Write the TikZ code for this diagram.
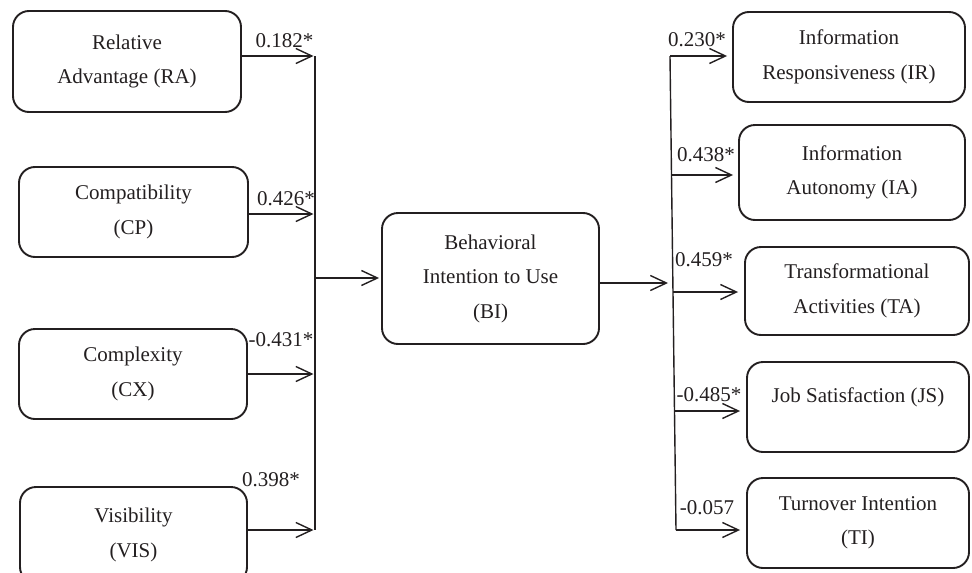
\documentclass[tikz,border=0pt]{standalone}
\usepackage{fontspec}
\setmainfont{Liberation Serif}
\usetikzlibrary{arrows.meta}
\definecolor{ink}{HTML}{231F20}
\begin{document}
\begin{tikzpicture}[x=1pt,y=-1pt,
  box/.style={draw=ink, line width=1.9pt, rounded corners=16pt, align=center,
    inner sep=0pt, font=\fontsize{21}{34.5}\selectfont, text=ink},
  ln/.style={draw=ink, line width=1.4pt},
  arr/.style={draw=ink, line width=1.4pt, -{Straight Barb[length=16pt,width=15pt]}},
  coef/.style={font=\fontsize{21}{25}\selectfont, text=ink, inner sep=0pt}]
\clip (0,0) rectangle (972,573);
\useasboundingbox (0,0) rectangle (972,573);

% left boxes
\node[box, minimum width=228pt, minimum height=101pt] (RA) at (127,61.5) {Relative\\Advantage (RA)};
\node[box, minimum width=229pt, minimum height=90pt] (CP) at (133.5,212) {Compatibility\\(CP)};
\node[box, minimum width=228pt, minimum height=90pt] (CX) at (133,374) {Complexity\\(CX)};
\node[box, minimum width=227pt, minimum height=96pt] (VIS) at (133.5,535) {Visibility\\(VIS)};

% centre
\node[box, minimum width=217pt, minimum height=131pt] (BI) at (490.5,278.5) {Behavioral\\Intention to Use\\(BI)};

% right boxes
\node[box, minimum width=232pt, minimum height=90pt] (IR) at (849,57) {Information\\Responsiveness (IR)};
\node[box, minimum width=226pt, minimum height=95pt] (IA) at (852,172.5) {Information\\Autonomy (IA)};
\node[box, minimum width=224pt, minimum height=88pt] (TA) at (857,291) {Transformational\\Activities (TA)};
\node[box, minimum width=222pt, minimum height=90pt] (JS) at (858,407) {Job Satisfaction (JS)\\[-10pt]\mbox{}};
\node[box, minimum width=222pt, minimum height=90pt] (TI) at (858,523) {Turnover Intention\\(TI)};

% left connectors
\coordinate (L1) at (315,56);
\coordinate (L2) at (315,214);
\coordinate (L3) at (315,374);
\coordinate (L4) at (315,530);
\coordinate (LB) at (315,278);
\draw[ln] (L1) -- (L4);
\draw[arr, shorten >=1.5pt] (RA.east |- L1) -- (L1);
\draw[arr, shorten >=1.5pt] (CP.east |- L2) -- (L2);
\draw[arr, shorten >=1.5pt] (CX.east |- L3) -- (L3);
\draw[arr, shorten >=1.5pt] (VIS.east |- L4) -- (L4);
\draw[arr, shorten >=2pt] (LB) -- (BI.west |- LB);

% right connectors
\coordinate (R1) at (670,56);
\coordinate (R2) at (671.5,175);
\coordinate (R3) at (673,292);
\coordinate (R4) at (674.5,411);
\coordinate (R5) at (676,530);
\coordinate (RB) at (673,283);
\draw[ln] (R1) -- (R5);
\draw[arr, shorten >=5pt] (BI.east |- RB) -- (RB);
\draw[arr, shorten >=5pt] (R1) -- (IR.west |- R1);
\draw[arr, shorten >=5pt] (R2) -- (IA.west |- R2);
\draw[arr, shorten >=6pt] (R3) -- (TA.west |- R3);
\draw[arr, shorten >=6pt] (R4) -- (JS.west |- R4);
\draw[arr, shorten >=6pt] (R5) -- (TI.west |- R5);

% coefficients
\node[coef] (c1) at (284.5,40.5) {0.182*};
\node[coef] (c2) at (286,199) {0.426*};
\node[coef] (c3) at (281,339.5) {-0.431*};
\node[coef] (c4) at (271,480) {0.398*};
\node[coef] (c5) at (697,39.5) {0.230*};
\node[coef] (c6) at (706,154.5) {0.438*};
\node[coef] (c7) at (704,259.5) {0.459*};
\node[coef] (c8) at (709,394.5) {-0.485*};
\node[coef] (c9) at (707,507.5) {-0.057};
\end{tikzpicture}
\end{document}
